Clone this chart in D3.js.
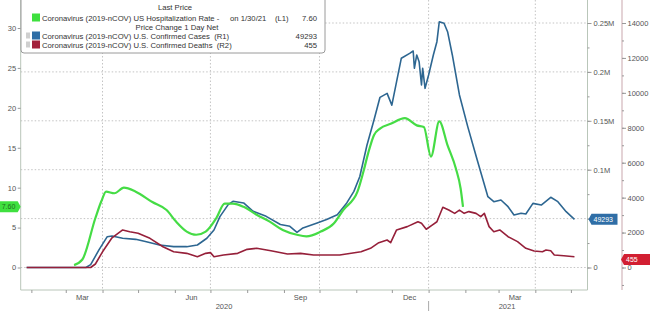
<!DOCTYPE html>
<html>
<head>
<meta charset="utf-8">
<script src="https://cdn.jsdelivr.net/npm/d3@7"></script>
<style>
  html, body { margin: 0; padding: 0; background: #fff; }
  svg { display: block; font-family: "Liberation Sans", Arial, sans-serif; }
  .axis text { font-size: 7.5px; fill: #555; }
  .axis line { stroke: #999; }
  .axis path { display: none; }
  .legend-text { font-size: 7.7px; fill: #333; white-space: pre; }
</style>
</head>
<body>
<svg width="650" height="311"></svg>
<script>
// Hospitalization rate (L1)
const hospitalization = [
  ["2020-03-08", 0.3], ["2020-03-15", 1.0], ["2020-03-26", 6.2], ["2020-03-31", 8.3],
  ["2020-04-04", 9.5], ["2020-04-11", 9.3], ["2020-04-19", 10.0], ["2020-04-29", 9.5],
  ["2020-05-13", 8.2], ["2020-05-25", 7.2], ["2020-06-02", 5.75], ["2020-06-11", 4.5],
  ["2020-06-19", 4.1], ["2020-06-27", 4.5], ["2020-07-06", 6.2], ["2020-07-13", 8.0],
  ["2020-07-20", 8.0], ["2020-07-29", 7.6], ["2020-08-09", 6.6], ["2020-08-20", 5.75],
  ["2020-08-31", 4.7], ["2020-09-12", 4.1], ["2020-09-20", 3.9], ["2020-10-02", 4.5],
  ["2020-10-13", 5.5], ["2020-10-21", 7.2], ["2020-11-02", 9.5], ["2020-11-07", 12.0],
  ["2020-11-11", 14.3], ["2020-11-16", 16.6], ["2020-11-21", 17.4], ["2020-11-30", 18.0],
  ["2020-12-12", 18.7], ["2020-12-22", 17.8], ["2020-12-28", 17.6], ["2021-01-03", 13.9],
  ["2021-01-10", 18.3], ["2021-01-17", 15.3], ["2021-01-24", 12.4], ["2021-01-28", 9.9],
  ["2021-01-30", 7.6]
];

// Confirmed cases (R1)
const cases = [
  ["2020-01-28", 0], ["2020-03-18", 0], ["2020-03-22", 3000], ["2020-03-29", 18000],
  ["2020-04-05", 31500], ["2020-04-09", 32200], ["2020-04-18", 29900], ["2020-04-29", 28800],
  ["2020-05-08", 26400], ["2020-05-19", 23000], ["2020-05-31", 21300], ["2020-06-11", 21300],
  ["2020-06-20", 23000], ["2020-06-28", 29900], ["2020-07-04", 38300], ["2020-07-09", 52000],
  ["2020-07-16", 64300], ["2020-07-20", 67700], ["2020-07-29", 66000], ["2020-08-06", 57400],
  ["2020-08-17", 52300], ["2020-08-29", 43900], ["2020-09-06", 42100], ["2020-09-12", 36000],
  ["2020-09-17", 40500], ["2020-09-29", 45600], ["2020-10-07", 49000], ["2020-10-16", 54000],
  ["2020-10-24", 66000], ["2020-10-30", 77800], ["2020-11-04", 93000], ["2020-11-10", 125000],
  ["2020-11-16", 151000], ["2020-11-21", 174000], ["2020-11-27", 178000], ["2020-12-01", 166000],
  ["2020-12-05", 190000], ["2020-12-09", 214000], ["2020-12-16", 219000], ["2020-12-19", 221400],
  ["2020-12-20", 203700], ["2020-12-22", 217300], ["2020-12-24", 210400], ["2020-12-26", 186600],
  ["2020-12-27", 203700], ["2020-12-29", 183200], ["2021-01-01", 196800], ["2021-01-05", 217300],
  ["2021-01-08", 230900], ["2021-01-10", 251300], ["2021-01-14", 249700], ["2021-01-17", 241100],
  ["2021-01-21", 217300], ["2021-01-27", 176400], ["2021-02-03", 144000], ["2021-02-11", 110000],
  ["2021-02-20", 72400], ["2021-02-25", 67300], ["2021-03-03", 69000], ["2021-03-09", 62200],
  ["2021-03-14", 53700], ["2021-03-20", 55400], ["2021-03-24", 54700], ["2021-03-30", 65600],
  ["2021-04-06", 63900], ["2021-04-14", 71800], ["2021-04-20", 67300], ["2021-04-27", 57100],
  ["2021-05-04", 49293]
];

// Confirmed deaths (R2)
const deaths = [
  ["2020-01-28", 0], ["2020-03-22", 0], ["2020-03-26", 200], ["2020-04-01", 900],
  ["2020-04-09", 1700], ["2020-04-18", 2150], ["2020-04-24", 2050], ["2020-05-01", 1960],
  ["2020-05-11", 1670], ["2020-05-22", 1190], ["2020-05-31", 905], ["2020-06-11", 810],
  ["2020-06-20", 620], ["2020-06-27", 810], ["2020-07-01", 850], ["2020-07-04", 620],
  ["2020-07-12", 716], ["2020-07-24", 810], ["2020-08-01", 1040], ["2020-08-09", 1100],
  ["2020-08-21", 960], ["2020-09-04", 770], ["2020-09-15", 810], ["2020-09-26", 716],
  ["2020-10-10", 716], ["2020-10-18", 716], ["2020-11-05", 905], ["2020-11-13", 1100],
  ["2020-11-20", 1420], ["2020-11-27", 1575], ["2020-11-30", 1420], ["2020-12-05", 2150],
  ["2020-12-14", 2340], ["2020-12-23", 2620], ["2020-12-26", 2530], ["2020-12-30", 2190],
  ["2021-01-04", 2430], ["2021-01-08", 2620], ["2021-01-13", 3450], ["2021-01-18", 3290],
  ["2021-01-23", 3100], ["2021-01-27", 3290], ["2021-01-31", 3100], ["2021-02-04", 3200],
  ["2021-02-10", 3100], ["2021-02-14", 2910], ["2021-02-17", 3100], ["2021-02-21", 2340],
  ["2021-02-25", 2050], ["2021-03-02", 2150], ["2021-03-09", 1765], ["2021-03-17", 1480],
  ["2021-03-24", 1100], ["2021-03-31", 945], ["2021-04-07", 905], ["2021-04-10", 1000],
  ["2021-04-14", 960], ["2021-04-17", 716], ["2021-04-25", 675], ["2021-05-04", 620]
];

// Tick values and labels
const leftTicks = [0, 5, 10, 15, 20, 25, 30];
const casesTicks = [0, 50000, 100000, 150000, 200000, 250000];
const deathsTicks = [0, 2000, 4000, 6000, 8000, 10000, 12000, 14000];
const gridDates = ["2020-04-01", "2020-07-01", "2020-10-01", "2021-01-01", "2021-04-01"];
const monthLabels = [["2020-03-15", "Mar"], ["2020-06-15", "Jun"], ["2020-09-15", "Sep"],
                     ["2020-12-16", "Dec"], ["2021-03-15", "Mar"]];
const yearLabels = [["2020", 224], ["2021", 507]];

const svg = d3.select("svg");
const parseDate = d3.timeParse("%Y-%m-%d");

const left = 20.7, right = 587.5, bottom = 290;

const x = d3.scaleTime()
    .domain([parseDate("2020-01-23"), parseDate("2021-05-15")])
    .range([left, right]);
const yLeft = d3.scaleLinear().domain([0, 30]).range([267.5, 28]);
const yCases = d3.scaleLinear().domain([0, 250000]).range([267.5, 23]);
const yDeaths = d3.scaleLinear().domain([0, 14000]).range([267.5, 23]);

// Grid
svg.append("g")
    .selectAll("line")
    .data(casesTicks)
    .join("line")
    .attr("x1", left).attr("x2", right)
    .attr("y1", d => yCases(d)).attr("y2", d => yCases(d))
    .attr("stroke", "#c4c4c4")
    .attr("stroke-dasharray", "1.5,2");

svg.append("g")
    .selectAll("line")
    .data(gridDates)
    .join("line")
    .attr("x1", d => x(parseDate(d))).attr("x2", d => x(parseDate(d)))
    .attr("y1", 0).attr("y2", bottom)
    .attr("stroke", "#c4c4c4")
    .attr("stroke-dasharray", "1.5,2");

// Frame
svg.append("path")
    .attr("d", `M${left},0V${bottom}H${right}V0`)
    .attr("fill", "none")
    .attr("stroke", "#b9c6b9");

svg.append("line")
    .attr("x1", 622).attr("x2", 622)
    .attr("y1", 0).attr("y2", bottom)
    .attr("stroke", "#c9a7ad");

// Left axis
svg.append("g")
    .attr("class", "axis")
    .attr("transform", `translate(${left},0)`)
    .call(d3.axisLeft(yLeft).tickValues(leftTicks).tickSize(3).tickPadding(1.5));

// R1 axis
svg.append("g")
    .attr("class", "axis")
    .attr("transform", `translate(${right},0)`)
    .call(d3.axisRight(yCases).tickValues(d3.range(0, 250001, 25000)).tickSize(2).tickFormat(""));
svg.append("g")
    .attr("class", "axis")
    .attr("transform", `translate(${right},0)`)
    .call(d3.axisRight(yCases).tickValues(casesTicks).tickSize(4).tickPadding(2)
        .tickFormat(d => d === 0 ? "0" : (d / 1e6) + "M"));

// R2 axis
svg.append("g")
    .attr("class", "axis")
    .attr("transform", "translate(622,0)")
    .call(d3.axisRight(yDeaths).tickValues(d3.range(-1000, 14001, 1000)).tickSize(2).tickFormat(""));
svg.append("g")
    .attr("class", "axis")
    .attr("transform", "translate(622,0)")
    .call(d3.axisRight(yDeaths).tickValues(deathsTicks).tickSize(4).tickPadding(1.5)
        .tickFormat(d3.format("d")));

// Bottom axis ticks at month starts
svg.append("g")
    .attr("class", "axis")
    .attr("transform", `translate(0,${bottom})`)
    .call(d3.axisBottom(x)
        .tickValues(d3.timeMonth.range(parseDate("2020-02-01"), parseDate("2021-05-02")))
        .tickSize(3).tickFormat(""));

svg.append("g")
    .selectAll("text")
    .data(monthLabels)
    .join("text")
    .attr("x", d => x(parseDate(d[0])))
    .attr("y", 300)
    .attr("text-anchor", "middle")
    .attr("font-size", "7.5px")
    .attr("fill", "#555")
    .text(d => d[1]);

svg.append("g")
    .selectAll("text")
    .data(yearLabels)
    .join("text")
    .attr("x", d => d[1])
    .attr("y", 309)
    .attr("text-anchor", "middle")
    .attr("font-size", "7.5px")
    .attr("fill", "#555")
    .text(d => d[0]);

svg.append("line")
    .attr("x1", x(parseDate("2021-01-01"))).attr("x2", x(parseDate("2021-01-01")))
    .attr("y1", 301).attr("y2", 311)
    .attr("stroke", "#aaa");

// Series
const lineFor = (scale, curve) => d3.line()
    .x(d => x(parseDate(d[0])))
    .y(d => scale(d[1]))
    .curve(curve);

svg.append("path")
    .datum(cases)
    .attr("d", lineFor(yCases, d3.curveLinear))
    .attr("fill", "none")
    .attr("stroke", "#2d6691")
    .attr("stroke-width", 1.6)
    .attr("stroke-linejoin", "round");

svg.append("path")
    .datum(deaths)
    .attr("d", lineFor(yDeaths, d3.curveLinear))
    .attr("fill", "none")
    .attr("stroke", "#96203a")
    .attr("stroke-width", 1.6)
    .attr("stroke-linejoin", "round");

svg.append("path")
    .datum(hospitalization)
    .attr("d", lineFor(yLeft, d3.curveMonotoneX))
    .attr("fill", "none")
    .attr("stroke", "#45dc45")
    .attr("stroke-width", 2.2)
    .attr("stroke-linejoin", "round");

// Value tags
function drawTag(xTip, yMid, width, fill, textFill, label, pointLeft) {
    const h = 11, p = 3;
    const d = pointLeft
        ? `M${xTip},${yMid}L${xTip + p},${yMid - h / 2}H${xTip + width}V${yMid + h / 2}H${xTip + p}Z`
        : `M${xTip},${yMid}L${xTip - p},${yMid - h / 2}H${xTip - width}V${yMid + h / 2}H${xTip - p}Z`;
    svg.append("path").attr("d", d).attr("fill", fill);
    svg.append("text")
        .attr("x", pointLeft ? xTip + p + 2 : xTip - width + 2)
        .attr("y", yMid + 2.6)
        .attr("font-size", "7px")
        .attr("fill", textFill)
        .text(label);
}

const lastHosp = hospitalization[hospitalization.length - 1][1];
drawTag(left, yLeft(lastHosp), 21, "#3fe03f", "#1e6e1e", lastHosp.toFixed(2), false);
drawTag(right + 1, yCases(cases[cases.length - 1][1]), 29, "#2f6ea6", "#fff", "49293", true);
drawTag(621, yDeaths(455), 29, "#d21f32", "#fff", "455", true);

// Legend
const legend = svg.append("g");

legend.append("rect")
    .attr("x", 21).attr("y", -4)
    .attr("width", 304).attr("height", 57)
    .attr("rx", 3)
    .attr("fill", "#fff")
    .attr("stroke", "#9a9a9a");

legend.append("text").attr("class", "legend-text")
    .attr("x", 175).attr("y", 10).attr("text-anchor", "middle").text("Last Price");
legend.append("text").attr("class", "legend-text")
    .attr("x", 177).attr("y", 30).attr("text-anchor", "middle").text("Price Change 1 Day Net");

const legendRows = [
    { y: 21, color: "#3ee03e", label: "Coronavirus (2019-nCOV) US Hospitalization Rate -", extra: [["on 1/30/21", 230], ["(L1)", 275]], value: "7.60", icon: false },
    { y: 39, color: "#2f6ea6", label: "Coronavirus (2019-nCOV) U.S. Confirmed Cases  (R1)", extra: [], value: "49293", icon: true },
    { y: 48, color: "#a3213b", label: "Coronavirus (2019-nCOV) U.S. Confirmed Deaths  (R2)", extra: [], value: "455", icon: true }
];

legendRows.forEach(r => {
    if (r.icon) {
        legend.append("rect").attr("x", 26).attr("y", r.y - 6.5)
            .attr("width", 4).attr("height", 6).attr("fill", "#cfcfcf");
    }
    legend.append("rect").attr("x", 32).attr("y", r.y - 7.5)
        .attr("width", 8).attr("height", 8).attr("fill", r.color);
    legend.append("text").attr("class", "legend-text")
        .attr("x", 42).attr("y", r.y).text(r.label);
    r.extra.forEach(e => {
        legend.append("text").attr("class", "legend-text")
            .attr("x", e[1]).attr("y", r.y).text(e[0]);
    });
    legend.append("text").attr("class", "legend-text")
        .attr("x", 317).attr("y", r.y).attr("text-anchor", "end").text(r.value);
});
</script>
</body>
</html>
